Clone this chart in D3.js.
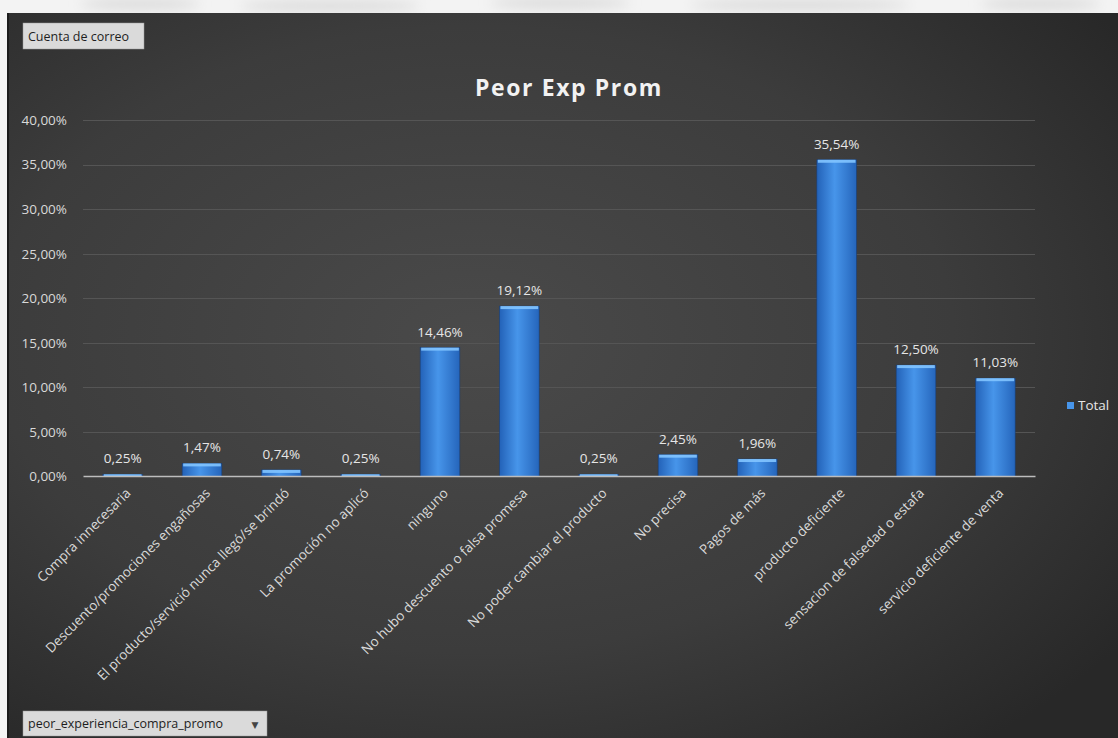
<!DOCTYPE html>
<html>
<head>
<meta charset="utf-8">
<script src="https://cdn.jsdelivr.net/npm/d3@7"></script>
<style>
  body { margin: 0; background: #f4f4f4; }
  svg { display: block; }
  text { font-family: "Open Sans", "DejaVu Sans", sans-serif; }
</style>
</head>
<body>
<div id="root"></div>
<script>
// data
var categories = [
  "Compra innecesaria",
  "Descuento/promociones engañosas",
  "El producto/servició nunca llegó/se brindó",
  "La promoción no aplicó",
  "ninguno",
  "No hubo descuento o falsa promesa",
  "No poder cambiar el producto",
  "No precisa",
  "Pagos de más",
  "producto deficiente",
  "sensacion de falsedad o estafa",
  "servicio deficiente de venta"
];
var totals = [0.25, 1.47, 0.74, 0.25, 14.46, 19.12, 0.25, 2.45, 1.96, 35.54, 12.50, 11.03];
var yTicks = [0, 5, 10, 15, 20, 25, 30, 35, 40];
var seriesName = "Total";
var chartTitle = "Peor Exp Prom";
var filterLabel = "Cuenta de correo";
var axisFieldLabel = "peor_experiencia_compra_promo";

function fmtPct(v) {
  return v.toFixed(2).replace(".", ",") + "%";
}

function drawChart() {
  var W = 1118, H = 738;
  var margin = { top: 120, right: 83, bottom: 262, left: 83 }
    , width = W - margin.left - margin.right
    , height = H - margin.top - margin.bottom;

  var svg = d3.select("#root").append("svg")
    .attr("width", W)
    .attr("height", H);

  var defs = svg.append("defs");

  // dark panel background
  var bg = defs.append("radialGradient")
    .attr("id", "bgGrad")
    .attr("cx", "42%").attr("cy", "45%").attr("r", "72%");
  bg.append("stop").attr("offset", "0%").attr("stop-color", "#4a4a4a");
  bg.append("stop").attr("offset", "60%").attr("stop-color", "#3c3c3c");
  bg.append("stop").attr("offset", "100%").attr("stop-color", "#282828");

  // cylinder-ish bar fill
  var barGrad = defs.append("linearGradient")
    .attr("id", "barGrad")
    .attr("x1", "0%").attr("x2", "100%").attr("y1", "0%").attr("y2", "0%");
  barGrad.append("stop").attr("offset", "0%").attr("stop-color", "#2362b8");
  barGrad.append("stop").attr("offset", "45%").attr("stop-color", "#4795ea");
  barGrad.append("stop").attr("offset", "100%").attr("stop-color", "#2565bb");

  var blur = defs.append("filter").attr("id", "soft")
    .attr("x", "-50%").attr("y", "-50%").attr("width", "200%").attr("height", "200%");
  blur.append("feGaussianBlur").attr("stdDeviation", 6);

  // faded page strip at the top
  svg.append("rect")
    .attr("x", 0).attr("y", 0).attr("width", W).attr("height", 13)
    .attr("fill", "#f3f3f3");
  [[140, 4, 60], [330, 6, 90], [560, 3, 70], [800, 5, 110], [1040, 4, 60]].forEach(function (b) {
    svg.append("ellipse")
      .attr("cx", b[0]).attr("cy", b[1]).attr("rx", b[2]).attr("ry", 6)
      .attr("fill", "#dcdcdc").attr("filter", "url(#soft)");
  });

  // chart panel
  svg.append("rect")
    .attr("x", 7).attr("y", 13).attr("width", W - 7).attr("height", H - 13)
    .attr("fill", "url(#bgGrad)");
  svg.append("rect")
    .attr("x", 7).attr("y", 13).attr("width", 2).attr("height", H - 13)
    .attr("fill", "#1c1c1c");

  var g = svg.append("g")
    .attr("transform", "translate(" + margin.left + "," + margin.top + ")");

  var xScale = d3.scaleBand()
    .domain(categories)
    .range([0, width])
    .paddingInner(0.5)
    .paddingOuter(0.25);

  var yScale = d3.scaleLinear()
    .domain([0, 40])
    .range([height + 0.5, 0]);

  // gridlines
  g.append("g")
    .selectAll("line")
    .data(yTicks.filter(function (d) { return d > 0; }))
    .enter().append("line")
    .attr("x1", 0).attr("x2", width)
    .attr("y1", function (d) { return Math.round(yScale(d)) + 0.5; })
    .attr("y2", function (d) { return Math.round(yScale(d)) + 0.5; })
    .attr("stroke", "#555555")
    .attr("stroke-width", 1);

  // y axis
  var yAxis = g.append("g")
    .attr("class", "y axis")
    .call(d3.axisLeft(yScale).tickValues(yTicks).tickFormat(fmtPct).tickSize(0).tickPadding(16));
  yAxis.select(".domain").remove();
  yAxis.selectAll("text")
    .attr("fill", "#d9d9d9")
    .style("font-size", "13.5px");

  // bars
  var bars = g.append("g").selectAll("g.bar")
    .data(totals)
    .enter().append("g")
    .attr("class", "bar");

  bars.append("rect")
    .attr("x", function (d, i) { return xScale(categories[i]); })
    .attr("y", function (d) { return yScale(d); })
    .attr("width", xScale.bandwidth())
    .attr("height", function (d) { return yScale(0) - yScale(d); })
    .attr("fill", "url(#barGrad)")
    .attr("stroke", "#1a3f75")
    .attr("stroke-width", 0.6);

  // light cap on top of every bar
  bars.append("rect")
    .attr("x", function (d, i) { return xScale(categories[i]) + 1; })
    .attr("y", function (d) { return yScale(d); })
    .attr("width", xScale.bandwidth() - 2)
    .attr("height", function (d) { return Math.min(3, yScale(0) - yScale(d)); })
    .attr("fill", "#82c4ff")
    .attr("opacity", 0.9);

  // data labels
  bars.append("text")
    .attr("x", function (d, i) { return xScale(categories[i]) + xScale.bandwidth() / 2; })
    .attr("y", function (d) { return yScale(d) - 11; })
    .attr("text-anchor", "middle")
    .attr("fill", "#e6e6e6")
    .style("font-size", "13.5px")
    .text(function (d) { return fmtPct(d); });

  // x axis
  var xAxis = g.append("g")
    .attr("class", "x axis")
    .attr("transform", "translate(0," + height + ")")
    .call(d3.axisBottom(xScale).tickSize(0).tickPadding(0));
  xAxis.select(".domain")
    .attr("stroke", "#bdbdbd")
    .attr("stroke-width", 1.5);
  xAxis.selectAll("text")
    .attr("fill", "#d9d9d9")
    .style("font-size", "13.5px")
    .attr("text-anchor", "end")
    .attr("dy", "0")
    .attr("transform", "translate(9,18) rotate(-45)");

  // title
  svg.append("text")
    .attr("x", 569)
    .attr("y", 96)
    .attr("text-anchor", "middle")
    .attr("fill", "#f2f2f2")
    .style("font-size", "23px")
    .style("font-weight", "bold")
    .style("letter-spacing", "1.6px")
    .text(chartTitle);

  // legend
  svg.append("rect")
    .attr("x", 1067).attr("y", 402).attr("width", 7).attr("height", 7)
    .attr("fill", "#4795ea");
  svg.append("text")
    .attr("x", 1078).attr("y", 410)
    .attr("fill", "#e6e6e6")
    .style("font-size", "13.5px")
    .text(seriesName);

  // pivot field buttons
  function fieldButton(x, y, w, h, label, arrow) {
    var b = svg.append("g").attr("transform", "translate(" + x + "," + y + ")");
    b.append("rect")
      .attr("width", w).attr("height", h)
      .attr("fill", "#dadada")
      .attr("stroke", "#9a9a9a")
      .attr("stroke-width", 0.5);
    b.append("text")
      .attr("x", 5).attr("y", h / 2 + 4.5)
      .attr("fill", "#1e1e1e")
      .style("font-size", "12.5px")
      .text(label);
    if (arrow) {
      b.append("text")
        .attr("x", w - 12).attr("y", h / 2 + 4)
        .attr("text-anchor", "middle")
        .attr("fill", "#444")
        .style("font-size", "9px")
        .text("▼");
    }
  }
  fieldButton(23, 23, 121, 26, filterLabel, false);
  fieldButton(23, 711, 244, 25, axisFieldLabel, true);
}

drawChart();
</script>
</body>
</html>
